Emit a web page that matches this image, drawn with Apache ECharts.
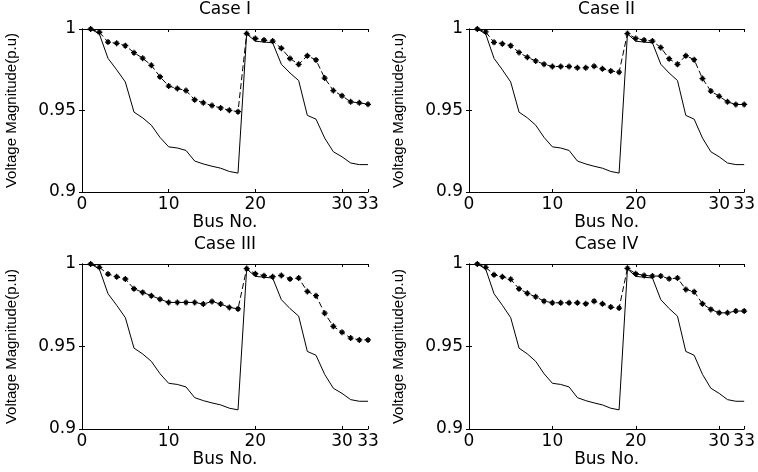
<!DOCTYPE html>
<html>
<head>
<meta charset="utf-8">
<script src="https://cdn.jsdelivr.net/npm/echarts@6/dist/echarts.min.js"></script>
<style>
html,body{margin:0;padding:0;background:#fff;}
#chart{width:758px;height:472px;}
</style>
</head>
<body>
<div id="chart"></div>
<script>
// ---- data ----
var buses = [1,2,3,4,5,6,7,8,9,10,11,12,13,14,15,16,17,18,19,20,21,22,23,24,25,26,27,28,29,30,31,32,33];
var caseNames = ["Case I", "Case II", "Case III", "Case IV"];
var xTicks = [0, 10, 20, 30, 33];
var yTicks = [0.9, 0.95, 1];
// base case (solid line), identical in every panel
var baseV = [1.0, 0.997, 0.982, 0.975, 0.9675, 0.949, 0.9455, 0.941, 0.9335, 0.9277, 0.927, 0.9255, 0.919, 0.9172, 0.9158, 0.9146, 0.9126, 0.9116,
             0.997, 0.9925, 0.992, 0.9915, 0.9784, 0.973, 0.9684, 0.947, 0.9447, 0.9331, 0.9247, 0.9216, 0.9178, 0.9168, 0.9168];
// improved profiles (dashed line with * markers)
var case1V = [1.0, 0.998, 0.992, 0.9912, 0.9898, 0.9855, 0.9821, 0.9777, 0.9707, 0.965, 0.9635, 0.9622, 0.9566, 0.9547, 0.953, 0.9516, 0.9501, 0.9493,
              0.9972, 0.9942, 0.9932, 0.9926, 0.9882, 0.9819, 0.9783, 0.9836, 0.981, 0.9699, 0.9622, 0.959, 0.9553, 0.9547, 0.9538];
var case2V = [1.0, 0.9982, 0.9918, 0.991, 0.9898, 0.9856, 0.9826, 0.9804, 0.9784, 0.977, 0.977, 0.977, 0.9762, 0.9762, 0.9772, 0.9756, 0.9743, 0.9735,
              0.9972, 0.9942, 0.9932, 0.9926, 0.9886, 0.9818, 0.9783, 0.9836, 0.9812, 0.9696, 0.9619, 0.9587, 0.9553, 0.9537, 0.9537];
var case3V = [1.0, 0.998, 0.9939, 0.9923, 0.9909, 0.985, 0.9828, 0.9808, 0.9787, 0.9767, 0.9767, 0.9767, 0.9767, 0.9757, 0.9773, 0.9757, 0.9737, 0.9728,
              0.9972, 0.9941, 0.9929, 0.9923, 0.9931, 0.9909, 0.9915, 0.9834, 0.9808, 0.9702, 0.9622, 0.9587, 0.9551, 0.954, 0.954];
var case4V = [1.0, 0.998, 0.9935, 0.9923, 0.9907, 0.985, 0.9822, 0.9801, 0.9775, 0.9765, 0.9765, 0.9765, 0.9765, 0.9759, 0.9775, 0.9759, 0.9739, 0.9733,
              0.9974, 0.9941, 0.9931, 0.9927, 0.9927, 0.991, 0.9915, 0.9846, 0.9832, 0.9759, 0.9725, 0.9704, 0.9704, 0.9715, 0.9715];
var caseValues = [case1V, case2V, case3V, case4V];

// ---- layout ----
var grids = [
  {left: 82,  top: 25,  width: 286, height: 167},
  {left: 469, top: 25,  width: 279, height: 167},
  {left: 82,  top: 264, width: 286, height: 165},
  {left: 469, top: 264, width: 279, height: 165}
];
var bottomNameGap = [15, 15, 19, 19];

function pairs(vals) {
  return buses.map(function (b, i) { return [b, vals[i]]; });
}

var axisLineStyle = {show: true, lineStyle: {color: '#000', width: 1}};
var tickStyle = {show: true, inside: true, length: 3, lineStyle: {color: '#000', width: 1}};
var labelFont = {color: '#000', fontFamily: 'DejaVu Sans', fontSize: 17};
var starPath = 'path://M0,-10L0,10M-10,0L10,0M-6,-6L6,6M-6,6L6,-6';

var xAxes = [], yAxes = [], series = [];
for (var i = 0; i < 4; i++) {
  xAxes.push({
    type: 'value', gridIndex: i, position: 'bottom', min: 0, max: 33,
    axisLine: axisLineStyle, splitLine: {show: false},
    axisTick: Object.assign({customValues: xTicks}, tickStyle),
    axisLabel: Object.assign({customValues: xTicks, margin: 4}, labelFont),
    name: 'Bus No.', nameLocation: 'middle', nameGap: bottomNameGap[i],
    nameTextStyle: labelFont
  });
  yAxes.push({
    type: 'value', gridIndex: i, position: 'left', min: 0.9, max: 1,
    axisLine: axisLineStyle, splitLine: {show: false},
    axisTick: Object.assign({customValues: yTicks}, tickStyle),
    axisLabel: Object.assign({customValues: yTicks, margin: 6}, labelFont),
    name: 'Voltage Magnitude(p.u)', nameLocation: 'middle', nameGap: 63,
    nameTextStyle: {color: '#000', fontFamily: 'Liberation Sans', fontSize: 15}
  });
}
for (var j = 0; j < 4; j++) {
  xAxes.push({
    type: 'value', gridIndex: j, position: 'top', min: 0, max: 33,
    axisLine: axisLineStyle, splitLine: {show: false},
    axisTick: Object.assign({customValues: xTicks}, tickStyle),
    axisLabel: {show: false},
    name: caseNames[j], nameLocation: 'middle', nameGap: 11,
    nameTextStyle: labelFont
  });
  yAxes.push({
    type: 'value', gridIndex: j, position: 'right', min: 0.9, max: 1,
    axisLine: axisLineStyle, splitLine: {show: false},
    axisTick: Object.assign({customValues: yTicks}, tickStyle),
    axisLabel: {show: false}
  });
}
for (var k = 0; k < 4; k++) {
  series.push({
    type: 'line', xAxisIndex: k, yAxisIndex: k, data: pairs(baseV),
    showSymbol: false, symbol: 'none', silent: true,
    lineStyle: {color: '#000', width: 1}
  });
  series.push({
    type: 'line', xAxisIndex: k, yAxisIndex: k, data: pairs(caseValues[k]),
    symbol: starPath, symbolSize: 6, silent: true,
    itemStyle: {color: '#000', borderColor: '#000', borderWidth: 1.3},
    lineStyle: {color: '#000', width: 1, type: [6, 3]}
  });
}

var chart = echarts.init(document.getElementById('chart'));
chart.setOption({
  animation: false,
  backgroundColor: '#fff',
  grid: grids,
  xAxis: xAxes,
  yAxis: yAxes,
  series: series
});
</script>
</body>
</html>
